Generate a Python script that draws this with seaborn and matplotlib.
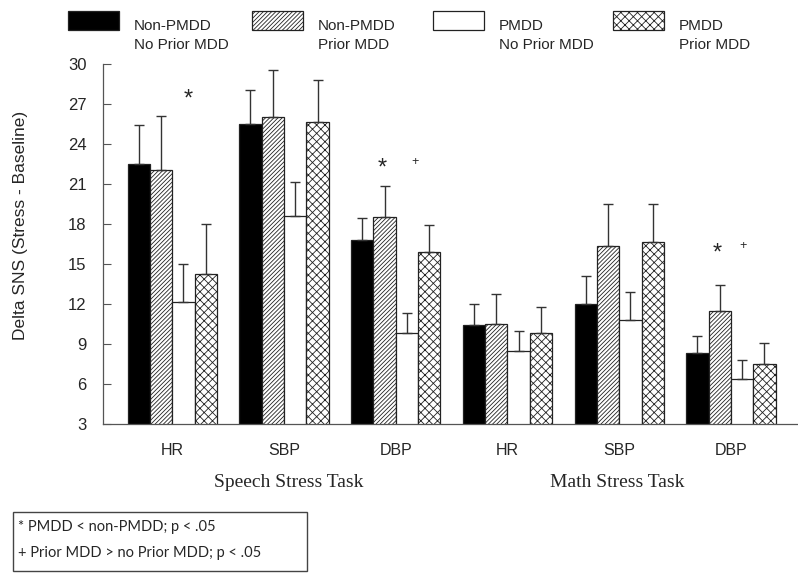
import numpy as np
import pandas as pd
import seaborn as sns
import matplotlib.pyplot as plt
from matplotlib.patches import Rectangle

# data
slots = ['Speech HR', 'Speech SBP', 'Speech DBP', 'Math HR', 'Math SBP', 'Math DBP']
measures = ['HR', 'SBP', 'DBP', 'HR', 'SBP', 'DBP']
groups = ['Non-PMDD\nNo Prior MDD', 'Non-PMDD\nPrior MDD', 'PMDD\nNo Prior MDD', 'PMDD\nPrior MDD']

non_no = [22.5, 25.5, 16.8, 10.4, 12.0, 8.3]
non_prior = [22.0, 26.0, 18.5, 10.5, 16.3, 11.5]
pmdd_no = [12.1, 18.6, 9.8, 8.5, 10.8, 6.4]
pmdd_prior = [14.2, 25.6, 15.9, 9.8, 16.6, 7.5]

non_no_err = [2.9, 2.5, 1.6, 1.6, 2.1, 1.3]
non_prior_err = [4.1, 3.5, 2.3, 2.2, 3.2, 1.9]
pmdd_no_err = [2.9, 2.5, 1.5, 1.5, 2.1, 1.4]
pmdd_prior_err = [3.8, 3.2, 2.0, 2.0, 2.9, 1.6]

means = [non_no, non_prior, pmdd_no, pmdd_prior]
errs = [non_no_err, non_prior_err, pmdd_no_err, pmdd_prior_err]

colors = ['black', 'white', 'white', 'white']
hatches = ['', '////////', '', 'xxxx']

df = pd.DataFrame({
    'slot': np.tile(slots, 4),
    'group': np.repeat(groups, 6),
    'mean': np.concatenate(means),
})

sns.set_style('white')
plt.rcParams['hatch.linewidth'] = 0.6
plt.rcParams['font.family'] = ['Liberation Sans', 'DejaVu Sans']

fig = plt.figure(figsize=(7.98, 5.74), dpi=100)
ax = fig.add_axes([103 / 798, 1 - 424 / 574, 695 / 798, 360.5 / 574])

sns.barplot(data=df, x='slot', y='mean', hue='group', order=slots, hue_order=groups,
            palette=colors, edgecolor='#222222', linewidth=0.9, width=0.8,
            errorbar=None, saturation=1, legend=False, ax=ax)

for cont, h, e in zip(ax.containers, hatches, errs):
    xs = []
    hs = []
    for bar in cont:
        bar.set_hatch(h)
        xs.append(bar.get_x() + bar.get_width() / 2)
        hs.append(bar.get_height())
    ax.errorbar(xs, hs, yerr=[np.zeros(len(e)), e], fmt='none', ecolor='#333333',
                elinewidth=1, capsize=3.5, capthick=1)

ax.set_ylim(3, 30)
ax.set_yticks(np.arange(3, 31, 3))
ax.set_xlim(-0.62, 5.6)
ax.set_xticks(range(6))
ax.set_xticklabels(measures, fontsize=11.5)
ax.tick_params(axis='y', direction='in', length=6, width=0.8, color='#555555',
               labelsize=12, pad=12, left=True)
ax.tick_params(axis='x', length=0, pad=14)
ax.set_xlabel('')
ax.set_ylabel('Delta SNS (Stress - Baseline)', fontsize=12.5)
ax.yaxis.set_label_coords(-0.108, 0.55)
sns.despine(ax=ax)
for s in ['left', 'bottom']:
    ax.spines[s].set_color('#555555')
    ax.spines[s].set_linewidth(0.9)

# task labels
for xpos, name in [(1.04, 'Speech Stress Task'), (3.98, 'Math Stress Task')]:
    ax.text(xpos, -0.161, name, transform=ax.get_xaxis_transform(), ha='center', va='center',
            fontsize=14, family='Liberation Serif')

# significance markers
ax.text(0.14, 27.3, '*', ha='center', va='center', fontsize=17)
ax.text(1.88, 22.1, '*', ha='center', va='center', fontsize=17)
ax.text(2.17, 22.6, '+', ha='center', va='center', fontsize=9)
ax.text(4.88, 15.8, '*', ha='center', va='center', fontsize=17)
ax.text(5.11, 16.3, '+', ha='center', va='center', fontsize=9)

# legend across the top
leg_x = [68, 252, 433, 613]
for lx, lab, c, h in zip(leg_x, groups, colors, hatches):
    fig.add_artist(Rectangle((lx / 798, 1 - 30 / 574), 51 / 798, 19 / 574, facecolor=c,
                             hatch=h, edgecolor='#222222', linewidth=0.9))
    fig.text((lx + 66) / 798, 1 - 35.5 / 574, lab, ha='left', va='center', fontsize=11,
             linespacing=1.45)

# footnote box
fig.add_artist(Rectangle((13 / 798, 1 - 571 / 574), 294 / 798, 59 / 574, facecolor='white',
                         edgecolor='#444444', linewidth=1))
fig.text(18 / 798, 1 - 527 / 574, '* PMDD < non-PMDD; p < .05', ha='left', va='center',
         fontsize=10.5, family=['Lato', 'DejaVu Sans'])
fig.text(18 / 798, 1 - 553 / 574, '+ Prior MDD > no Prior MDD; p < .05', ha='left', va='center',
         fontsize=10.5, family=['Lato', 'DejaVu Sans'])

fig.savefig('out.png', dpi=100)
